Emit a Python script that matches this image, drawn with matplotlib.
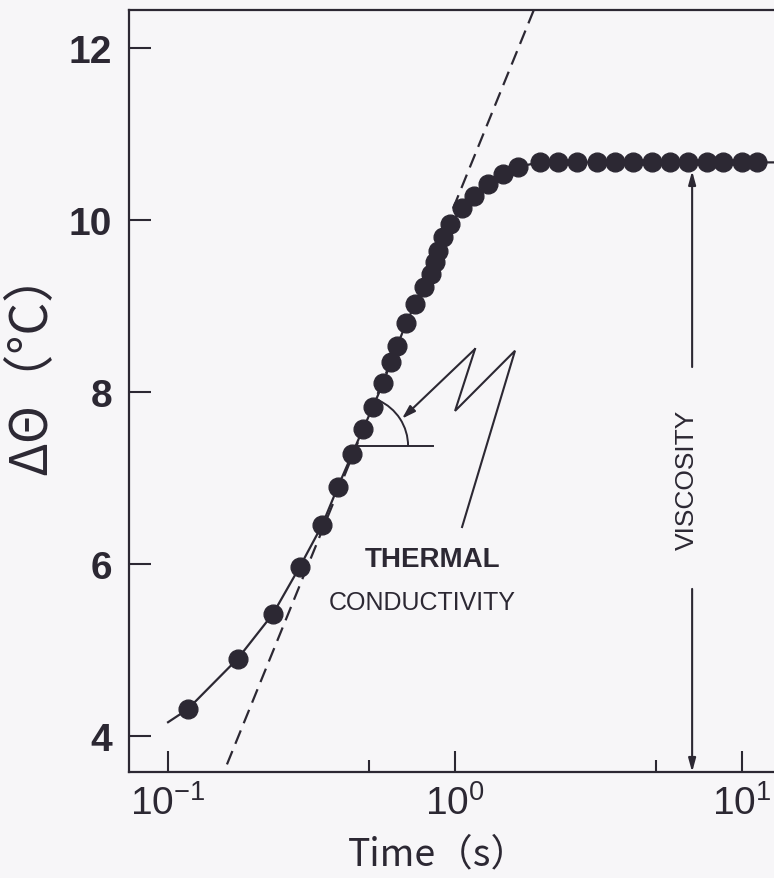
import numpy as np
import matplotlib
matplotlib.use("Agg")
import matplotlib.pyplot as plt
from matplotlib.patches import Arc
from matplotlib.transforms import ScaledTranslation
from matplotlib.ticker import FixedLocator, FixedFormatter, NullFormatter

# ---- data ----
time_s = [0.117, 0.175, 0.232, 0.288, 0.344, 0.391, 0.438, 0.478, 0.518, 0.561,
          0.598, 0.628, 0.675, 0.726, 0.780, 0.825, 0.852, 0.873, 0.908, 0.961,
          1.058, 1.165, 1.303, 1.470, 1.658, 1.978, 2.286, 2.661, 3.126, 3.611,
          4.170, 4.856, 5.611, 6.486, 7.551, 8.586, 10.0, 11.28]
delta_theta = [4.31, 4.90, 5.42, 5.97, 6.45, 6.90, 7.28, 7.57, 7.83, 8.10,
               8.35, 8.53, 8.80, 9.02, 9.22, 9.37, 9.51, 9.64, 9.80, 9.95,
               10.14, 10.28, 10.42, 10.53, 10.62, 10.67, 10.67, 10.67, 10.67, 10.67,
               10.67, 10.67, 10.67, 10.67, 10.67, 10.67, 10.67, 10.67]
curve_start = (0.1, 4.16)
curve_end = (16.0, 10.67)
tangent_t = [0.15, 1.95]
tangent_y = [3.43, 12.57]

yticks = [4, 6, 8, 10, 12]
ytick_labels = ["4", "6", "8", "10", "12"]
xticks = [0.1, 1.0, 10.0]
xtick_labels = [r"$10^{\mathregular{-1}}$", r"$10^{0}$", r"$10^{1}$"]
xminor = [0.5, 5.0]

INK = "#2c2833"
BG = "#f7f6f8"
plt.rcParams["font.family"] = ["Liberation Sans", "DejaVu Sans"]
plt.rcParams["mathtext.fontset"] = "custom"
plt.rcParams["mathtext.rm"] = "Liberation Sans"
plt.rcParams["mathtext.default"] = "regular"

W, H = 774, 879
fig = plt.figure(figsize=(W / 100, H / 100), dpi=100, facecolor=BG)
ax = fig.add_axes([129 / W, (H - 773) / H, (800 - 129) / W, (773 - 11) / H])
ax.set_facecolor(BG)
ax.set_xscale("log")
ax.set_xlim(0.0731, 15.92)
ax.set_ylim(3.581, 12.442)

for s in ["left", "bottom", "top"]:
    ax.spines[s].set_linewidth(1.6)
    ax.spines[s].set_color(INK)
ax.spines["right"].set_visible(False)

ax.xaxis.set_major_locator(FixedLocator(xticks))
ax.xaxis.set_major_formatter(FixedFormatter(xtick_labels))
ax.xaxis.set_minor_locator(FixedLocator(xminor))
ax.xaxis.set_minor_formatter(NullFormatter())
ax.set_yticks(yticks)
ax.set_yticklabels(ytick_labels)
ax.tick_params(axis="x", which="major", direction="in", length=15, width=1.5,
               color=INK, labelcolor=INK, labelsize=28, pad=9, top=False)
ax.tick_params(axis="x", which="minor", direction="in", length=9, width=1.5,
               color=INK, top=False)
ax.tick_params(axis="y", which="major", direction="in", length=16, width=1.5,
               color=INK, labelcolor=INK, labelsize=28, pad=12, right=False)
for lab in ax.get_yticklabels():
    lab.set_fontweight("bold")

# fitted curve and data points
line_t = [curve_start[0]] + time_s + [curve_end[0]]
line_y = [curve_start[1]] + delta_theta + [curve_end[1]]
ax.plot(line_t, line_y, color=INK, lw=1.6, zorder=3)
ax.plot(time_s, delta_theta, "o", color=INK, ms=13.5, mec=INK, zorder=4, clip_on=False)

# dashed tangent
ax.plot(tangent_t, tangent_y, color=INK, lw=1.6, ls=(0, (6.5, 3.5)), zorder=2)

# slope angle marker
x0, y0 = 0.4593, 7.372
ax.plot([x0, 0.837], [y0, y0], color=INK, lw=1.4, zorder=2)
trans = fig.dpi_scale_trans + ScaledTranslation(x0, y0, ax.transData)
ax.add_patch(Arc((0, 0), 1.0, 1.0, theta1=0, theta2=66, transform=trans,
                 color=INK, lw=1.4))

# lightning-bolt arrow
ax.plot([1.058, 1.618, 1.0, 1.174], [6.43, 8.48, 7.78, 8.50], color=INK, lw=1.5,
        solid_joinstyle="miter")
ax.annotate("", xy=(0.6535, 7.69), xytext=(1.174, 8.50),
            arrowprops=dict(arrowstyle="-|>,head_length=0.8,head_width=0.25",
                            color=INK, lw=1.5, shrinkA=0, shrinkB=0))

ax.text(0.832, 6.06, "THERMAL", ha="center", va="center", fontsize=20,
        color=INK, fontweight="bold")
ax.text(0.767, 5.56, "CONDUCTIVITY", ha="center", va="center", fontsize=18,
        color=INK)

# viscosity arrow
xv = 6.70
ax.annotate("", xy=(xv, 10.57), xytext=(xv, 8.29),
            arrowprops=dict(arrowstyle="-|>,head_length=0.8,head_width=0.22",
                            color=INK, lw=1.5, shrinkA=0, shrinkB=0))
ax.annotate("", xy=(xv, 3.581), xytext=(xv, 5.71),
            arrowprops=dict(arrowstyle="-|>,head_length=0.8,head_width=0.22",
                            color=INK, lw=1.5, shrinkA=0, shrinkB=0))
ax.text(xv * 0.96, 6.99, "VISCOSITY", rotation=90, ha="center", va="center",
        fontsize=19, color=INK)

# axis labels
fig.text(32 / W, 1 - 362 / H, "ΔΘ（°C）", rotation=90, ha="center", va="center",
         fontsize=37, color=INK, family=["Noto Sans CJK JP", "DejaVu Sans"])
fig.text(438 / W, 1 - 855 / H, "Time（s）", ha="center", va="center",
         fontsize=27, color=INK, family=["Noto Sans CJK JP", "DejaVu Sans"])

fig.savefig("out.png", dpi=100, facecolor=BG)
